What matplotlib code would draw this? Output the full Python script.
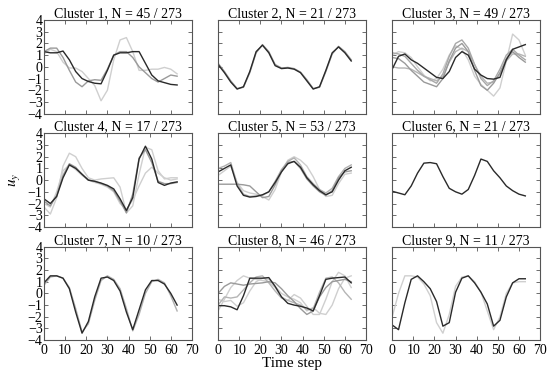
import numpy as np
import matplotlib
matplotlib.use('Agg')
import matplotlib.pyplot as plt

plt.rcParams['font.family'] = ['Liberation Serif', 'DejaVu Serif']
plt.rcParams['mathtext.fontset'] = 'stix'

# time steps sampled every 3 steps
t = [0, 3, 6, 9, 12, 15, 18, 21, 24, 27, 30, 33, 36, 39, 42, 45, 48, 51, 54, 57, 60, 63]

titles = ['Cluster 1, N = 45 / 273', 'Cluster 2, N = 21 / 273', 'Cluster 3, N = 49 / 273',
          'Cluster 4, N = 17 / 273', 'Cluster 5, N = 53 / 273', 'Cluster 6, N = 21 / 273',
          'Cluster 7, N = 10 / 273', 'Cluster 8, N = 46 / 273', 'Cluster 9, N = 11 / 273']

# cluster 1
c1_dark = [1.3, 1.2, 1.2, 1.35, 0.6, -0.4, -1.0, -1.25, -1.4, -1.45, -0.3, 1.0, 1.2, 1.2, 1.3, 1.3, 0.3, -0.7, -1.2, -1.35, -1.5, -1.55]
c1_g1 = [1.3, 1.6, 1.6, 0.8, -0.3, -1.3, -1.7, -1.2, -1.1, -1.15, -0.2, 1.0, 1.3, 1.3, 0.8, 0.0, -0.5, -1.0, -1.3, -1.0, -0.7, -0.8]
c1_g2 = [1.1, 1.5, 1.3, 0.4, -0.1, -0.1, -0.4, -1.0, -1.6, -2.9, -2.0, 0.6, 2.3, 2.5, 1.3, -0.3, -0.3, -0.2, -0.2, -0.05, -0.2, -0.6]

# cluster 2
c2_dark = [0.2, -0.5, -1.3, -1.9, -1.7, -0.4, 1.3, 1.85, 1.2, 0.1, -0.15, -0.1, -0.2, -0.5, -1.2, -1.9, -1.7, -0.3, 1.2, 1.7, 1.2, 0.5]
c2_g1 = [0.3, -0.4, -1.2, -1.85, -1.75, -0.5, 1.2, 1.9, 1.3, 0.2, -0.1, -0.05, -0.15, -0.45, -1.1, -1.85, -1.75, -0.4, 1.1, 1.75, 1.3, 0.6]

# cluster 3
c3_dark = [-0.2, 0.9, 1.1, 0.6, 0.3, -0.1, -0.5, -0.9, -1.0, -0.4, 0.8, 1.3, 1.0, -0.2, -0.7, -1.0, -1.05, -0.9, 0.6, 1.5, 1.7, 1.9]
c3_g1 = [1.2, 1.1, 0.9, 0.3, -0.3, -0.8, -1.1, -1.4, -0.6, 0.9, 2.0, 2.3, 1.6, 0.2, -1.0, -1.6, -1.2, -0.2, 1.0, 1.5, 1.0, 0.6]
c3_g2 = [0.8, 0.7, 0.3, -0.3, -0.8, -1.3, -1.5, -1.7, -1.0, 0.5, 1.6, 2.0, 1.3, -0.3, -1.6, -2.0, -1.4, -0.5, 0.7, 1.3, 0.8, 0.4]
c3_g3 = [0.0, -0.1, -0.1, -0.2, -0.5, -0.8, -1.0, -1.2, -0.8, 0.4, 1.3, 1.6, 1.3, 0.2, -0.8, -1.4, -1.3, -0.6, 0.5, 1.1, 1.1, 0.9]
c3_g4 = [1.0, 1.3, 1.2, 0.8, 0.0, -0.7, -1.2, -1.0, -0.2, 1.0, 1.8, 1.5, 0.6, -0.8, -1.5, -2.0, -2.5, -1.8, 0.5, 2.8, 2.3, 1.0]

# cluster 4
c4_dark = [-1.6, -2.0, -1.4, 0.2, 1.3, 1.0, 0.5, 0.0, -0.1, -0.25, -0.45, -0.75, -1.6, -2.6, -1.5, 1.8, 2.9, 1.8, -0.2, -0.45, -0.25, -0.15]
c4_g1 = [-2.3, -2.9, -1.5, 1.2, 2.3, 2.0, 1.0, 0.2, 0.0, 0.1, 0.15, 0.2, -0.6, -2.8, -2.2, 0.5, 2.8, 2.6, 0.8, 0.1, 0.2, 0.2]
c4_g2 = [-2.0, -2.3, -1.0, 0.8, 1.3, 0.9, 0.4, 0.0, -0.2, -0.35, -0.6, -1.0, -2.0, -2.5, -1.7, -0.5, 0.6, 1.1, 0.6, 0.2, 0.0, 0.1]
c4_g3 = [-1.8, -2.2, -1.3, 0.4, 1.4, 1.1, 0.5, 0.0, -0.1, -0.3, -0.5, -0.9, -1.8, -2.8, -1.2, 1.9, 2.6, 1.5, -0.1, -0.3, -0.3, -0.2]

# cluster 5
c5_dark = [0.7, 1.0, 1.3, -0.5, -1.3, -1.45, -1.4, -1.25, -1.0, -0.2, 0.7, 1.4, 1.6, 1.1, 0.2, -0.4, -0.9, -1.25, -1.0, 0.0, 0.8, 1.1]
c5_g1 = [-0.35, -0.35, -0.35, -0.35, -0.4, -0.5, -1.0, -1.5, -1.4, -0.4, 0.8, 1.5, 1.6, 1.0, 0.1, -0.5, -1.0, -1.3, -0.9, 0.2, 0.7, 0.8]
c5_g2 = [0.4, 0.8, 1.2, -0.2, -0.9, -1.1, -1.2, -1.4, -1.7, -0.8, 0.7, 1.7, 2.0, 1.7, 1.2, 0.3, -0.8, -1.4, -1.3, -0.3, 0.5, 0.6]
c5_g3 = [1.0, 1.2, 1.5, -0.3, -1.2, -1.4, -1.35, -1.3, -1.0, -0.1, 0.9, 1.6, 1.9, 1.3, 0.3, -0.3, -0.8, -1.1, -0.7, 0.3, 1.0, 1.3]

# cluster 6
c6_dark = [-0.95, -1.1, -1.25, -0.5, 0.6, 1.45, 1.5, 1.4, 0.3, -0.7, -1.0, -1.2, -0.8, 0.4, 1.8, 1.6, 0.8, 0.2, -0.5, -0.9, -1.2, -1.35]

# cluster 7
c7_dark = [0.9, 1.5, 1.5, 1.3, 0.4, -1.6, -3.4, -2.4, -0.3, 1.3, 1.4, 1.1, 0.2, -1.6, -3.1, -1.4, 0.3, 1.1, 1.1, 0.8, 0.0, -1.0]
c7_g1 = [0.7, 1.4, 1.5, 1.3, 0.5, -1.3, -3.3, -2.6, -0.6, 1.1, 1.5, 1.2, 0.4, -1.3, -3.2, -1.8, 0.0, 1.0, 1.2, 0.9, -0.2, -1.5]

# cluster 8
c8_dark = [-1.05, -1.05, -1.15, -1.4, -0.2, 1.3, 1.3, 1.3, 1.35, 0.6, -0.3, -0.85, -1.0, -1.1, -1.25, -1.5, -0.2, 1.2, 1.3, 1.35, 1.4, 0.9]
c8_g1 = [0.0, 0.6, 0.9, 0.8, 0.7, 0.8, 0.85, 0.9, 1.0, 0.9, 0.4, -0.2, -0.7, -1.3, -1.8, -1.5, -0.3, 0.5, 1.0, 1.1, 1.2, 1.0]
c8_g2 = [-1.5, -0.5, 0.5, 1.1, 1.5, 1.3, 1.2, 1.1, 1.0, 0.5, -0.3, -0.6, -0.1, -0.4, -1.1, -1.8, -1.8, -0.5, 1.0, 1.8, 1.5, 0.5]
c8_g3 = [-0.5, -0.7, -0.6, -1.1, -0.8, 0.2, 1.0, 1.3, 1.2, 0.6, 0.0, -0.3, -0.5, -0.8, -1.5, -1.2, -1.7, -1.8, -1.0, 0.4, 1.3, 1.5]
c8_g4 = [-1.0, -0.3, -0.4, -0.3, 0.3, 0.9, 1.4, 1.5, 0.9, 0.2, -0.4, -0.6, -0.8, -1.0, -1.4, -1.3, 0.1, 1.3, 1.4, 0.9, 0.1, -0.5]

# cluster 9
c9_dark = [-2.7, -3.1, -0.8, 1.2, 1.5, 1.0, 0.4, -0.7, -2.8, -2.5, 0.1, 1.3, 1.5, 0.9, 0.1, -0.9, -2.8, -2.3, -0.3, 0.9, 1.25, 1.25]
c9_g1 = [-2.0, 0.0, 1.5, 1.5, 1.4, 0.8, -0.2, -2.5, -3.4, -1.8, 0.6, 1.4, 1.5, 1.0, 0.1, -1.5, -3.1, -2.0, 0.0, 0.9, 1.0, 1.0]

light = '#cfcfcf'
mid = '#9a9a9a'
dark = '#2a2a2a'

panels = [
    [(c1_g2, light), (c1_g1, mid), (c1_dark, dark)],
    [(c2_g1, mid), (c2_dark, dark)],
    [(c3_g4, light), (c3_g3, '#b5b5b5'), (c3_g2, mid), (c3_g1, '#a8a8a8'), (c3_dark, dark)],
    [(c4_g1, light), (c4_g2, light), (c4_g3, mid), (c4_dark, dark)],
    [(c5_g2, light), (c5_g3, '#b0b0b0'), (c5_g1, mid), (c5_dark, dark)],
    [(c6_dark, dark)],
    [(c7_g1, '#b0b0b0'), (c7_dark, dark)],
    [(c8_g2, light), (c8_g3, light), (c8_g4, '#b5b5b5'), (c8_g1, mid), (c8_dark, dark)],
    [(c9_g1, light), (c9_dark, dark)],
]

fig, axes = plt.subplots(3, 3, figsize=(5.5, 3.78), dpi=100, sharex=True, sharey=True)
fig.subplots_adjust(left=0.08, right=0.982, top=0.947, bottom=0.10, wspace=0.177, hspace=0.21)

for i, ax in enumerate(axes.flat):
    for ys, col in panels[i]:
        ax.plot(t, ys, color=col, lw=1.0, solid_joinstyle='round')
    ax.set_title(titles[i], fontsize=10, pad=2)
    ax.set_xlim(0, 70)
    ax.set_ylim(-4, 4)
    ax.set_xticks(range(0, 71, 10))
    ax.set_yticks(range(-4, 5))
    ax.tick_params(direction='in', top=True, right=True, length=3, width=0.6,
                   labelsize=10, color='#555555')
    ax.tick_params(axis='x', pad=3)
    ax.tick_params(axis='y', pad=1)
    for s in ax.spines.values():
        s.set_color('#555555')
        s.set_linewidth(0.8)

axes[1, 0].set_ylabel('$u_y$', fontsize=11, labelpad=4)
axes[2, 1].set_xlabel('Time step', fontsize=11, labelpad=0)

plt.savefig('out.png', dpi=100)
